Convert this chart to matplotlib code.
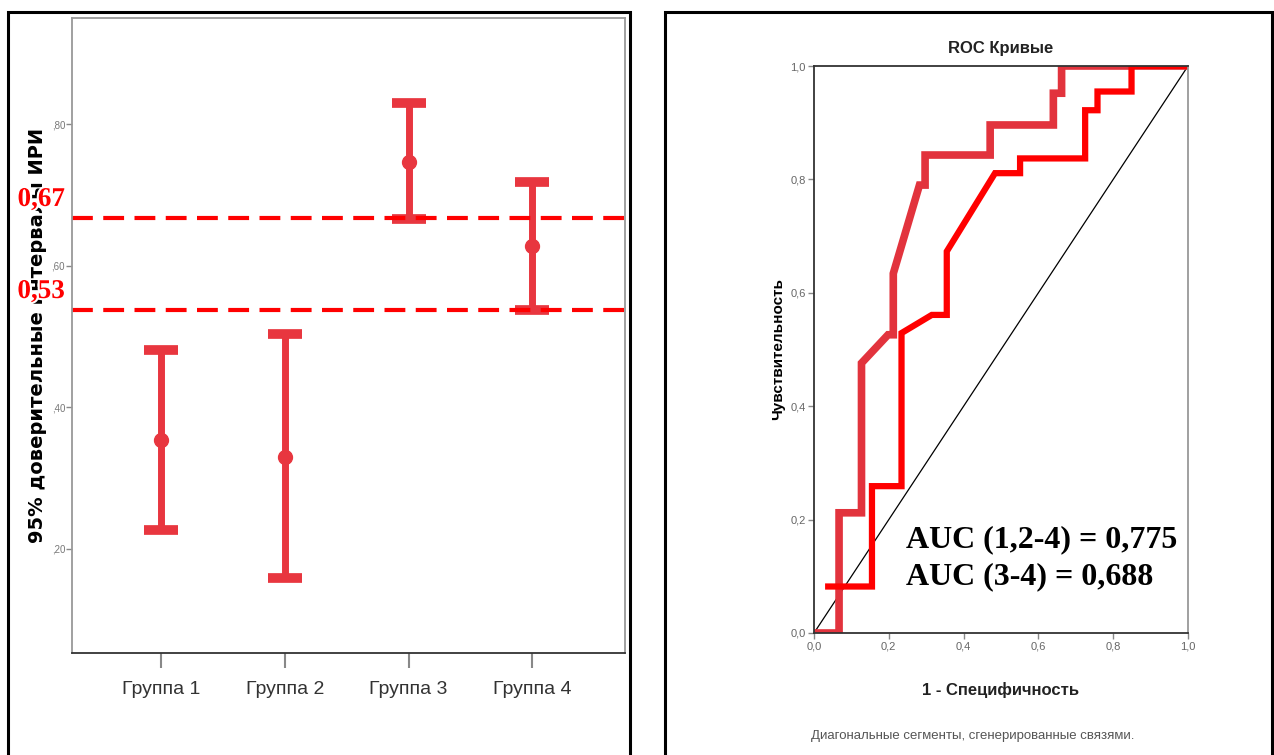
import matplotlib
matplotlib.use("Agg")
import matplotlib.pyplot as plt
import matplotlib.patheffects as pe
from matplotlib.patches import Rectangle

# left panel: 95% CI of IRI by group
groups = ["Группа 1", "Группа 2", "Группа 3", "Группа 4"]
means = [0.354, 0.330, 0.746, 0.628]
ci_low = [0.227, 0.159, 0.666, 0.537]
ci_high = [0.481, 0.504, 0.830, 0.718]
thresholds = [0.668, 0.538]
threshold_labels = ["0,67", "0,53"]
left_yticks = [0.2, 0.4, 0.6, 0.8]
left_yticklabels = [",20", ",40", ",60", ",80"]

# right panel: ROC curves
roc_a_fpr = [0.0, 0.067, 0.067, 0.127, 0.127, 0.198, 0.212, 0.212, 0.282, 0.297, 0.297,
             0.471, 0.471, 0.640, 0.640, 0.662, 0.662, 1.0]
roc_a_tpr = [0.0, 0.0, 0.212, 0.212, 0.476, 0.526, 0.526, 0.634, 0.790, 0.790, 0.843,
             0.843, 0.896, 0.896, 0.952, 0.952, 1.0, 1.0]
roc_b_fpr = [0.038, 0.155, 0.155, 0.234, 0.234, 0.315, 0.355, 0.355, 0.484, 0.551, 0.551,
             0.725, 0.725, 0.758, 0.758, 0.849, 0.849, 1.0]
roc_b_tpr = [0.082, 0.082, 0.259, 0.259, 0.529, 0.561, 0.561, 0.673, 0.811, 0.811, 0.837,
             0.837, 0.922, 0.922, 0.955, 0.955, 1.0, 1.0]
roc_ticks = [0.0, 0.2, 0.4, 0.6, 0.8, 1.0]
roc_ticklabels = ["0,0", "0,2", "0,4", "0,6", "0,8", "1,0"]
auc_lines = ["AUC (1,2-4) = 0,775", "AUC (3-4) = 0,688"]

narrow = ["Liberation Sans Narrow", "Liberation Sans", "DejaVu Sans"]
serif = ["Liberation Serif", "DejaVu Serif"]
sans = ["Liberation Sans", "DejaVu Sans"]

W, H = 1274, 755
fig = plt.figure(figsize=(W / 100, H / 100), dpi=100)

def frac(x0, y0, x1, y1):
    return [x0 / W, 1 - y1 / H, (x1 - x0) / W, (y1 - y0) / H]

# outer boxes
for x0, x1 in [(8, 630), (665, 1272)]:
    fig.patches.append(Rectangle((x0 / W, -0.01), (x1 - x0) / W, 1 - 12 / H + 0.01,
                                 transform=fig.transFigure, fill=False,
                                 edgecolor="black", linewidth=2.2))

# ---- left panel
ax = fig.add_axes(frac(72, 18, 625, 653))
xs = list(range(len(groups)))
err = [[m - lo for m, lo in zip(means, ci_low)], [hi - m for m, hi in zip(means, ci_high)]]
ax.errorbar(xs, means, yerr=err, fmt="o", color="#e8363f", markersize=10,
            elinewidth=5, capsize=12, capthick=7)
for t, lab in zip(thresholds, threshold_labels):
    ax.axhline(t, color="#ff0000", linewidth=3, linestyle=(0, (5, 2.5)))
    ax.text(-0.013, t + 0.008, lab, transform=ax.get_yaxis_transform(), ha="right",
            va="bottom", color="#ff0000", fontsize=19.5, fontweight="bold", family=serif,
            zorder=5, clip_on=False,
            path_effects=[pe.withStroke(linewidth=3, foreground="white")])
ax.set_xlim(-0.72, 3.75)
ax.set_ylim(0.053, 0.95)
ax.set_yticks(left_yticks)
ax.set_yticklabels(left_yticklabels, fontsize=7, color="#777777", family=narrow)
ax.set_xticks(xs)
ax.set_xticklabels(groups, fontsize=14, color="#333333", family=narrow)
ax.tick_params(axis="x", length=11, width=1.5, color="#888888", pad=9)
ax.tick_params(axis="y", length=4, width=1, color="#888888", pad=1)
for s in ax.spines.values():
    s.set_color("#999999")
    s.set_linewidth(1.3)
ax.spines["bottom"].set_color("#333333")
ax.set_ylabel("95% доверительные интервалы ИРИ", fontsize=14, fontweight="bold",
              family=["DejaVu Sans"])
ax.yaxis.set_label_coords(-0.046, 0.5)

# ---- right panel
ax2 = fig.add_axes(frac(814, 66, 1188, 633))
ax2.plot([0, 1], [0, 1], color="black", linewidth=0.9)
ax2.plot(roc_a_fpr, roc_a_tpr, color="#e2333d", linewidth=5.5, solid_joinstyle="miter")
ax2.plot(roc_b_fpr, roc_b_tpr, color="#ff0000", linewidth=4.5, solid_joinstyle="miter")
ax2.set_xlim(0, 1)
ax2.set_ylim(0, 1)
ax2.set_xticks(roc_ticks)
ax2.set_xticklabels(roc_ticklabels, fontsize=8, color="#666666", family=narrow)
ax2.set_yticks(roc_ticks)
ax2.set_yticklabels(roc_ticklabels, fontsize=8, color="#666666", family=narrow)
ax2.tick_params(length=4, width=1, color="#888888", pad=2)
for s in ax2.spines.values():
    s.set_color("#999999")
    s.set_linewidth(1.3)
ax2.spines["bottom"].set_color("#333333")
ax2.spines["top"].set_color("#333333")
ax2.spines["left"].set_color("#333333")
ax2.set_title("ROC Кривые", fontsize=12, fontweight="bold", family=narrow,
              color="#222222", pad=9)
ax2.set_xlabel("1 - Специфичность", fontsize=12, fontweight="bold", family=narrow,
               color="#222222", labelpad=22)
ax2.set_ylabel("Чувствительность", fontsize=11, fontweight="bold", family=sans,
               labelpad=4)
for i, line in enumerate(auc_lines):
    ax2.text(0.247, 0.165 - i * 0.066, line, fontsize=23, fontweight="bold",
             family=serif, va="center", ha="left")
fig.text(973 / W, 1 - 736 / H, "Диагональные сегменты, сгенерированные связями.",
         ha="center", va="center", fontsize=9.5, color="#555555", family=narrow)

fig.savefig("out.png", dpi=100)
